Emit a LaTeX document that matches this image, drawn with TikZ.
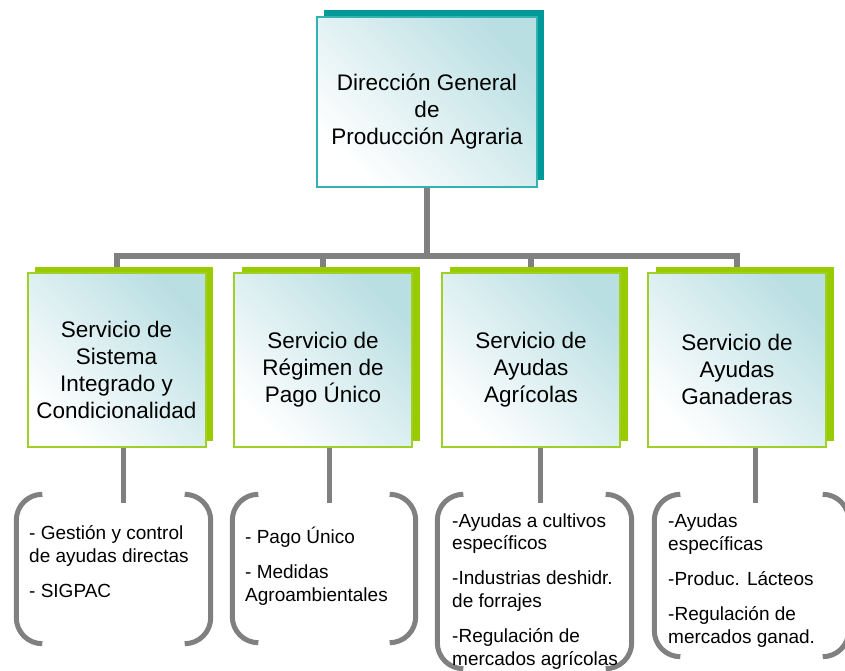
\documentclass[tikz,border=0pt]{standalone}
\usepackage{fontspec}
\setmainfont{Liberation Sans}
\usetikzlibrary{calc, shadows, backgrounds}
\definecolor{dirTeal}{RGB}{0,153,153}
\definecolor{dirEdge}{RGB}{51,178,178}
\definecolor{svcGreen}{RGB}{153,204,0}
\definecolor{svcEdge}{RGB}{160,208,40}
\definecolor{boxTint}{RGB}{186,223,227}
\definecolor{linkGray}{RGB}{128,128,128}

\begin{document}
\begin{tikzpicture}[x=1pt, y=-1pt,
	box/.style={rectangle, inner sep=0pt, line width=2pt, top color=boxTint, bottom color=white, middle color=boxTint!50!white, shading angle=-45},
	dirbox/.style={box, draw=dirEdge, minimum width=220, minimum height=170, copy shadow={shadow xshift=7pt, shadow yshift=6.5pt, fill=dirTeal, draw=none}},
	svcbox/.style={box, draw=svcEdge, minimum width=178, minimum height=174, copy shadow={shadow xshift=7.5pt, shadow yshift=6.5pt, fill=svcGreen, draw=none}},
	boxtext/.style={align=center, inner sep=0pt, font=\fontsize{22.5}{27}\selectfont},
	listbox/.style={rectangle, inner sep=0pt},
	listtext/.style={anchor=base west, align=left, inner sep=0pt, font=\fontsize{19}{22.8}\selectfont},
	link/.style={draw=linkGray, line width=6pt},
	sublink/.style={draw=linkGray, line width=5pt},
	bracket/.style={draw=linkGray, line width=5pt, rounded corners=26pt}]
	\def\r{26}

	\path[use as bounding box] (0,0) rectangle (845,671);

	% direction
	\node[dirbox] (dir) at (427,102) {};
	\node[boxtext] (dirT) at ($(dir)+(0,10)$) {Dirección General\\de\\Producción Agraria};

	% services
	\foreach \name/\cx in {s1/116.5, s2/323, s3/531, s4/737} {
		\node[svcbox] (\name) at (\cx,360) {};
	}
	\node[boxtext] (s1T) at ($(s1)+(0,9.5)$) {Servicio de\\Sistema\\Integrado y\\Condicionalidad};
	\node[boxtext] (s2T) at ($(s2)+(0,9.5)$) {Servicio de\\Régimen de\\Pago Único};
	\node[boxtext] (s3T) at ($(s3)+(0,9.5)$) {Servicio de\\Ayudas\\Agrícolas};
	\node[boxtext] (s4T) at ($(s4)+(0,9.5)$) {Servicio de\\Ayudas\\Ganaderas};

	% task lists (text placed by the baseline of its last line)
	\foreach \name/\cx/\cy/\w/\h in {b1/113.5/569/194/149, b2/324/568.5/183/148, b3/534.5/581.5/194/174, b4/751.5/575.5/194/162} {
		\node[listbox, minimum width=\w, minimum height=\h] (\name) at (\cx,\cy) {};
		\draw[bracket]	([xshift=\r]\name.north west) -- (\name.north west) -- (\name.south west) -- ([xshift=\r]\name.south west);
		\draw[bracket]	([xshift=-\r]\name.north east) -- (\name.north east) -- (\name.south east) -- ([xshift=-\r]\name.south east);
	}
	\node[listtext] (t1) at (29,597) {- Gestión y control\\de ayudas directas\\[12pt]- SIGPAC};
	\node[listtext] (t2) at (245,601) {- Pago Único\\[12pt]- Medidas\\Agroambientales};
	\node[listtext] (t3) at (452,665) {-Ayudas a cultivos\\específicos\\[12pt]-Industrias deshidr.\\de forrajes\\[12pt]-Regulación de\\mercados agrícolas};
	\node[listtext] (t4) at (668,643) {-Ayudas\\específicas\\[12pt]-Produc. Lácteos\\[12pt]-Regulación de\\mercados ganad.};

	% connectors
	\begin{scope}[on background layer]
		\fill[white] (0,0) rectangle (845,671);
		\coordinate (hub) at (427,256);
		\draw[link] (dir.south) -- (hub);
		\foreach \name in {s1, s2, s3, s4} {
			\draw[link] (hub) -| (\name.north);
		}
	\end{scope}
	\foreach \name/\list/\dx in {s1/b1/7, s2/b2/6, s3/b3/9, s4/b4/18} {
		\draw[sublink] ([xshift=\dx]\name.south) -- ($(\name.south |- \list.north)+(\dx,8.5)$);
	}

\end{tikzpicture}
\end{document}
